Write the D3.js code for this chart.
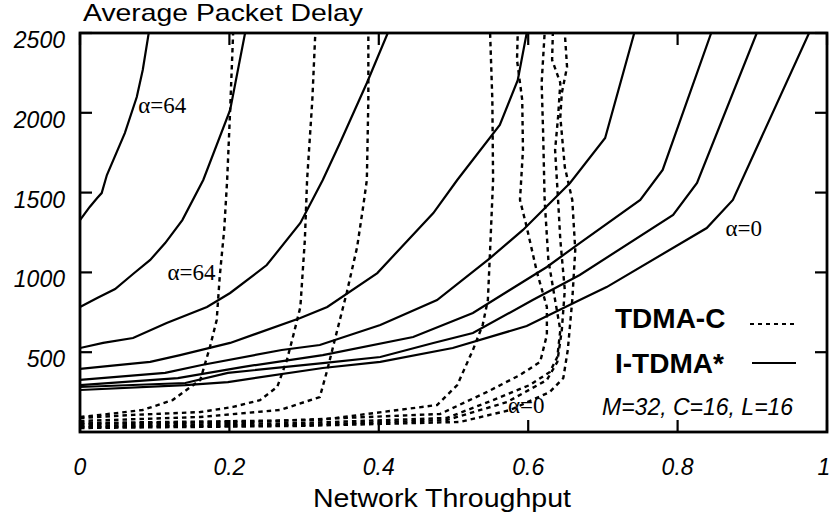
<!DOCTYPE html>
<html>
<head>
<meta charset="utf-8">
<script src="https://cdn.jsdelivr.net/npm/d3@7"></script>
<style>
  body { margin: 0; background: #fff; }
  svg { display: block; }
  .tick-label { font-family: "Liberation Sans", Arial, sans-serif; font-style: italic; font-size: 23px; }
  .alpha { font-family: "Liberation Serif", "Times New Roman", serif; font-size: 23px; }
</style>
</head>
<body>
<div id="chart"></div>
<script>
// axis ticks
var xTicks = [0, 0.2, 0.4, 0.6, 0.8, 1];
var xTickLabels = ["0", "0.2", "0.4", "0.6", "0.8", "1"];
var yTicks = [500, 1000, 1500, 2000, 2500];
var yTickLabels = ["500", "1000", "1500", "2000", "2500"];

// I-TDMA* curves (solid), [throughput, delay], from alpha=64 down to alpha=0
var itdma1 = [[0,1328],[0.013,1410],[0.023,1466],[0.029,1497],[0.036,1610],[0.060,1873],[0.076,2099],[0.084,2268],[0.092,2500]];
var itdma2 = [[0,783],[0.023,840],[0.047,896],[0.071,990],[0.094,1078],[0.114,1184],[0.137,1328],[0.165,1579],[0.201,2018],[0.221,2500]];
var itdma3 = [[0,526],[0.031,558],[0.071,589],[0.116,683],[0.170,783],[0.201,871],[0.250,1046],[0.295,1310],[0.325,1579],[0.348,1811],[0.384,2187],[0.412,2500]];
var itdma4 = [[0,395],[0.040,414],[0.094,439],[0.134,482],[0.201,558],[0.295,714],[0.331,783],[0.398,996],[0.473,1372],[0.505,1579],[0.562,1924],[0.586,2205],[0.598,2500]];
var itdma5 = [[0,326],[0.114,370],[0.163,420],[0.270,514],[0.321,545],[0.402,670],[0.478,827],[0.549,1090],[0.593,1266],[0.656,1560],[0.703,1842],[0.742,2500]];
var itdma6 = [[0,294],[0.131,338],[0.217,407],[0.325,482],[0.446,595],[0.526,746],[0.625,1034],[0.669,1184],[0.750,1454],[0.780,1642],[0.845,2500]];
var itdma7 = [[0,282],[0.141,307],[0.198,370],[0.325,432],[0.402,470],[0.473,558],[0.526,620],[0.606,827],[0.669,984],[0.794,1360],[0.826,1560],[0.906,2500]];
var itdma8 = [[0,263],[0.141,294],[0.198,313],[0.325,401],[0.402,439],[0.499,526],[0.598,664],[0.669,827],[0.705,908],[0.839,1278],[0.874,1454],[0.976,2500]];

// TDMA-C curves (dashed), same order
var tdmac1 = [[0,94],[0.027,107],[0.084,138],[0.124,200],[0.161,326],[0.174,533],[0.183,702],[0.187,971],[0.193,1266],[0.197,1579],[0.201,2018],[0.205,2500]];
var tdmac2 = [[0,88],[0.071,107],[0.161,125],[0.205,157],[0.241,200],[0.264,282],[0.277,451],[0.285,595],[0.295,783],[0.301,1203],[0.304,1579],[0.311,2080],[0.315,2500]];
var tdmac3 = [[0,69],[0.161,94],[0.268,138],[0.321,219],[0.331,388],[0.341,576],[0.357,871],[0.371,1159],[0.379,1410],[0.384,1579],[0.386,2080],[0.386,2500]];
var tdmac4 = [[0,56],[0.321,75],[0.478,169],[0.505,294],[0.526,514],[0.539,670],[0.546,827],[0.549,1140],[0.553,1579],[0.552,2080],[0.549,2500]];
var tdmac5 = [[0,50],[0.228,63],[0.482,113],[0.545,251],[0.589,357],[0.616,439],[0.625,608],[0.625,783],[0.612,996],[0.598,1284],[0.589,1454],[0.593,1767],[0.592,2080],[0.585,2331],[0.586,2500]];
var tdmac6 = [[0,38],[0.295,56],[0.491,88],[0.553,200],[0.602,294],[0.629,376],[0.639,470],[0.643,639],[0.636,827],[0.627,1078],[0.622,1454],[0.620,1873],[0.618,2187],[0.622,2500]];
var tdmac7 = [[0,31],[0.295,44],[0.491,75],[0.572,188],[0.625,326],[0.639,439],[0.645,639],[0.649,890],[0.643,1203],[0.640,1454],[0.636,1767],[0.640,1974],[0.643,2187],[0.632,2331],[0.633,2500]];
var tdmac8 = [[0,25],[0.295,38],[0.509,63],[0.576,138],[0.629,251],[0.647,338],[0.653,514],[0.659,827],[0.663,1140],[0.659,1454],[0.649,1660],[0.643,1974],[0.645,2124],[0.652,2287],[0.649,2500]];

var solidSeries = [itdma1, itdma2, itdma3, itdma4, itdma5, itdma6, itdma7, itdma8];
var dashedSeries = [tdmac1, tdmac2, tdmac3, tdmac4, tdmac5, tdmac6, tdmac7, tdmac8];

// curve annotations: [throughput, delay, text]
var alphaLabels = [[0.078, 2000, "\u03b1=64"], [0.117, 950, "\u03b1=64"], [0.573, 120, "\u03b1=0"], [0.864, 1230, "\u03b1=0"]];

var width = 831, height = 519;
var margin = { left: 80, right: 4, top: 33, bottom: 87 };

var svg = d3.select("#chart").append("svg")
    .attr("width", width)
    .attr("height", height);

var x = d3.scaleLinear().domain([0, 1]).range([margin.left, width - margin.right]);
var y = d3.scaleLinear().domain([0, 2500]).range([height - margin.bottom, margin.top]);

svg.append("clipPath").attr("id", "plot-clip")
    .append("rect")
    .attr("x", x(0)).attr("y", y(2500))
    .attr("width", x(1) - x(0)).attr("height", y(0) - y(2500));

var line = d3.line()
    .x(function (d) { return x(d[0]); })
    .y(function (d) { return y(d[1]); });

var plot = svg.append("g").attr("clip-path", "url(#plot-clip)");

plot.selectAll("path.solid")
    .data(solidSeries)
    .enter().append("path")
    .attr("class", "solid")
    .attr("d", line)
    .attr("fill", "none")
    .attr("stroke", "#000")
    .attr("stroke-width", 2.2);

plot.selectAll("path.dashed")
    .data(dashedSeries)
    .enter().append("path")
    .attr("class", "dashed")
    .attr("d", line)
    .attr("fill", "none")
    .attr("stroke", "#000")
    .attr("stroke-width", 2.4)
    .attr("stroke-dasharray", "4.5,4");

// ticks on all four sides, pointing inwards
var tickLen = 12;
var axisG = svg.append("g").attr("stroke", "#000").attr("stroke-width", 2.2);
xTicks.forEach(function (t) {
    axisG.append("line").attr("x1", x(t)).attr("x2", x(t)).attr("y1", y(0)).attr("y2", y(0) - tickLen);
    axisG.append("line").attr("x1", x(t)).attr("x2", x(t)).attr("y1", y(2500)).attr("y2", y(2500) + tickLen);
});
yTicks.forEach(function (v) {
    axisG.append("line").attr("x1", x(0)).attr("x2", x(0) + tickLen).attr("y1", y(v)).attr("y2", y(v));
    axisG.append("line").attr("x1", x(1)).attr("x2", x(1) - tickLen).attr("y1", y(v)).attr("y2", y(v));
});

svg.append("rect")
    .attr("x", x(0)).attr("y", y(2500))
    .attr("width", x(1) - x(0)).attr("height", y(0) - y(2500))
    .attr("fill", "none")
    .attr("stroke", "#000")
    .attr("stroke-width", 2.8);

svg.selectAll("text.xl")
    .data(xTicks)
    .enter().append("text")
    .attr("class", "tick-label xl")
    .attr("x", function (d) { return Math.min(x(d), width - 7); })
    .attr("y", 475)
    .attr("text-anchor", "middle")
    .text(function (d, i) { return xTickLabels[i]; });

svg.selectAll("text.yl")
    .data(yTicks)
    .enter().append("text")
    .attr("class", "tick-label yl")
    .attr("x", 65)
    .attr("y", function (d) { return y(d) + 15; })
    .attr("text-anchor", "end")
    .text(function (d, i) { return yTickLabels[i]; });

svg.append("text")
    .attr("x", 83).attr("y", 21)
    .attr("textLength", 280)
    .attr("lengthAdjust", "spacingAndGlyphs")
    .style("font-family", "Liberation Sans, Arial, sans-serif")
    .style("font-size", "24px")
    .text("Average Packet Delay");

svg.append("text")
    .attr("x", 313).attr("y", 507)
    .attr("textLength", 258)
    .attr("lengthAdjust", "spacingAndGlyphs")
    .style("font-family", "Liberation Sans, Arial, sans-serif")
    .style("font-size", "26px")
    .text("Network Throughput");

svg.selectAll("text.alpha")
    .data(alphaLabels)
    .enter().append("text")
    .attr("class", "alpha")
    .attr("x", function (d) { return x(d[0]); })
    .attr("y", function (d) { return y(d[1]); })
    .text(function (d) { return d[2]; });

// legend
var legend = svg.append("g");
legend.append("text")
    .attr("x", 615).attr("y", 328)
    .style("font-family", "Liberation Sans, Arial, sans-serif")
    .style("font-weight", "bold")
    .style("font-size", "28px")
    .text("TDMA-C");
legend.append("line")
    .attr("x1", 750).attr("x2", 796).attr("y1", 324).attr("y2", 324)
    .attr("stroke", "#000").attr("stroke-width", 2).attr("stroke-dasharray", "4,4");
legend.append("text")
    .attr("x", 615).attr("y", 373)
    .style("font-family", "Liberation Sans, Arial, sans-serif")
    .style("font-weight", "bold")
    .style("font-size", "28px")
    .text("I-TDMA*");
legend.append("line")
    .attr("x1", 752).attr("x2", 796).attr("y1", 363).attr("y2", 363)
    .attr("stroke", "#000").attr("stroke-width", 2);
legend.append("text")
    .attr("x", 602).attr("y", 415)
    .attr("class", "tick-label")
    .style("font-size", "23px")
    .text("M=32, C=16, L=16");
</script>
</body>
</html>
